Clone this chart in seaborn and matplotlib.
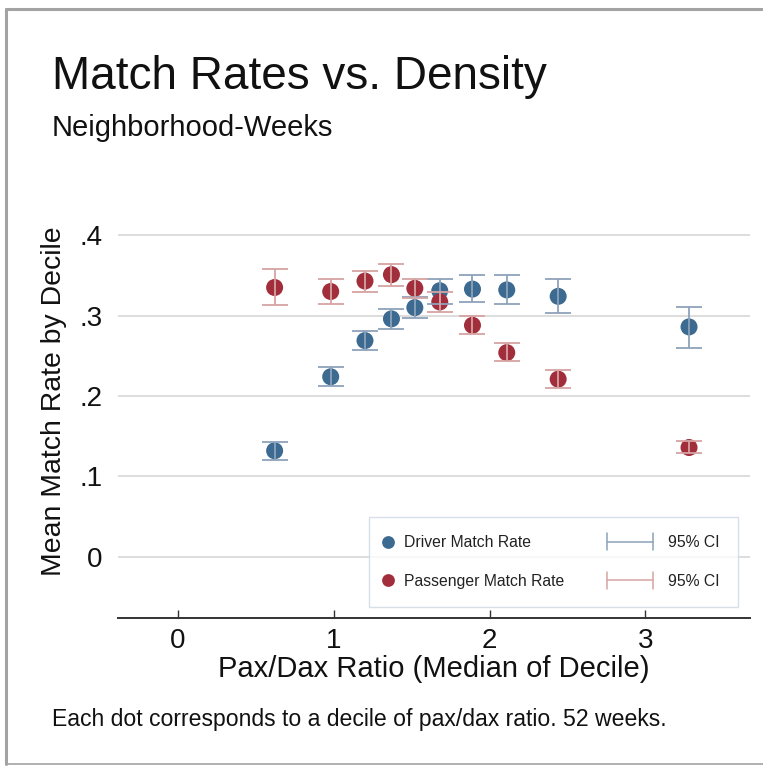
import matplotlib
matplotlib.use("Agg")
import matplotlib.pyplot as plt
from matplotlib.lines import Line2D
from matplotlib.legend_handler import HandlerBase
import seaborn as sns
import pandas as pd

# Median pax/dax ratio of each decile
ratio = [0.62, 0.98, 1.20, 1.37, 1.52, 1.68, 1.89, 2.11, 2.44, 3.28]

# Driver match rate: mean and 95% CI bounds
driver_mean = [0.132, 0.224, 0.269, 0.296, 0.310, 0.331, 0.333, 0.332, 0.324, 0.286]
driver_lo = [0.120, 0.212, 0.257, 0.283, 0.297, 0.315, 0.317, 0.314, 0.303, 0.260]
driver_hi = [0.143, 0.236, 0.281, 0.308, 0.323, 0.346, 0.350, 0.351, 0.345, 0.311]

# Passenger match rate: mean and 95% CI bounds
pass_mean = [0.335, 0.330, 0.343, 0.351, 0.334, 0.317, 0.288, 0.254, 0.221, 0.136]
pass_lo = [0.313, 0.315, 0.330, 0.337, 0.322, 0.304, 0.277, 0.243, 0.210, 0.129]
pass_hi = [0.358, 0.345, 0.356, 0.364, 0.346, 0.329, 0.299, 0.266, 0.233, 0.144]

series_names = ["Driver Match Rate", "Passenger Match Rate"]
ci_label = "95% CI"
ytick_vals = [0.0, 0.1, 0.2, 0.3, 0.4]
ytick_labels = ["0", ".1", ".2", ".3", ".4"]
xtick_vals = [0, 1, 2, 3]

title = "Match Rates vs. Density"
subtitle = "Neighborhood-Weeks"
note = "Each dot corresponds to a decile of pax/dax ratio. 52 weeks."
xlabel = "Pax/Dax Ratio (Median of Decile)"
ylabel = "Mean Match Rate by Decile"

DOT_COLORS = ["#3c6a91", "#a22e3b"]
CI_COLORS = ["#8da2bb", "#d6a3a3"]

sns.set_theme(style="white")
plt.rcParams["font.family"] = ["Liberation Sans", "DejaVu Sans"]

df = pd.DataFrame({
    "ratio": ratio * 2,
    "rate": driver_mean + pass_mean,
    "lo": driver_lo + pass_lo,
    "hi": driver_hi + pass_hi,
    "series": [series_names[0]] * len(ratio) + [series_names[1]] * len(ratio),
})

fig = plt.figure(figsize=(7.63, 7.70), dpi=100)
ax = fig.add_axes([0.1547, 0.1974, 0.828, 0.518])

sns.scatterplot(data=df, x="ratio", y="rate", hue="series",
                palette=DOT_COLORS, s=150, linewidth=0, legend=False,
                ax=ax, zorder=3)

for name, ci_col in zip(series_names, CI_COLORS):
    sub = df[df["series"] == name]
    ax.errorbar(sub["ratio"], sub["rate"],
                yerr=[sub["rate"] - sub["lo"], sub["hi"] - sub["rate"]],
                fmt="none", ecolor=ci_col, elinewidth=1.3, capsize=9.5,
                capthick=1.3, zorder=4)

ax.set_xlim(-0.385, 3.67)
ax.set_ylim(-0.076, 0.42)
ax.set_yticks(ytick_vals)
ax.set_yticklabels(ytick_labels)
ax.set_xticks(xtick_vals)
ax.set_xticklabels([str(v) for v in xtick_vals])
ax.yaxis.grid(True, color="#dddddd", linewidth=1.4)
ax.xaxis.grid(False)
ax.set_axisbelow(True)
for side in ["top", "right", "left"]:
    ax.spines[side].set_visible(False)
ax.spines["bottom"].set_color("#333333")
ax.spines["bottom"].set_linewidth(1.4)
ax.tick_params(axis="x", direction="in", length=6, width=1.0, color="#333333",
               labelsize=20, pad=7, bottom=True)
ax.tick_params(axis="y", length=0, labelsize=20, pad=11)
ax.set_xlabel(xlabel, fontsize=21, labelpad=1, color="#111111")
ax.set_ylabel(ylabel, fontsize=20.4, color="#111111")
ax.yaxis.set_label_coords(-0.081, 0.544)
for lab in ax.get_xticklabels() + ax.get_yticklabels():
    lab.set_color("#111111")


class DotHandler(HandlerBase):
    def create_artists(self, legend, orig_handle, xdescent, ydescent,
                       width, height, fontsize, trans):
        y = height / 2 - ydescent
        dot = Line2D([-xdescent + 0.3], [y], marker="o", linestyle="none",
                     markersize=9.2, markeredgewidth=0,
                     markerfacecolor=orig_handle.get_markerfacecolor())
        dot.set_transform(trans)
        return [dot]


class SpikeHandler(HandlerBase):
    def create_artists(self, legend, orig_handle, xdescent, ydescent,
                       width, height, fontsize, trans):
        y = height / 2 - ydescent
        x1 = width - xdescent - 4.8
        x0 = x1 - 33.5
        h = 6
        col = orig_handle.get_color()
        parts = [Line2D([x0, x1], [y, y]),
                 Line2D([x0, x0], [y - h, y + h]),
                 Line2D([x1, x1], [y - h, y + h])]
        for p in parts:
            p.set_color(col)
            p.set_linewidth(1.1)
            p.set_transform(trans)
        return parts


dot_handles = [Line2D([], [], marker="o", linestyle="none",
                      markerfacecolor=c) for c in DOT_COLORS]
ci_handles = [Line2D([], [], color=c) for c in CI_COLORS]
handler_map = {h: DotHandler() for h in dot_handles}
handler_map.update({h: SpikeHandler() for h in ci_handles})

leg = ax.legend(dot_handles + ci_handles,
                series_names + [ci_label, ci_label],
                handler_map=handler_map, ncol=2, fontsize=11.3,
                handlelength=0.5, handletextpad=0.55, columnspacing=5.6,
                labelspacing=1.52, borderpad=1.15, borderaxespad=0,
                loc="lower right", bbox_to_anchor=(738 / 763, (770 - 607) / 770),
                bbox_transform=fig.transFigure, frameon=True, fancybox=False)
leg.get_frame().set_edgecolor("#cdd8e3")
leg.get_frame().set_linewidth(1.0)
for t in leg.get_texts():
    t.set_color("#222222")

fig.text(52 / 763, 1 - 89 / 770, title, fontsize=33, va="baseline",
         ha="left", color="#111111")
fig.text(52 / 763, 1 - 136 / 770, subtitle, fontsize=21, va="baseline",
         ha="left", color="#111111")
fig.text(52 / 763, 1 - 726 / 770, note, fontsize=16.6, va="baseline",
         ha="left", color="#111111")

# Outer frame of the graph region
border_col = "#a3a3a3"
fig.add_artist(Line2D([6 / 763, 1.0], [1 - 9 / 770, 1 - 9 / 770],
                      transform=fig.transFigure, color=border_col, linewidth=2.2))
fig.add_artist(Line2D([6 / 763, 6 / 763], [1 - 9 / 770, 1 - 764 / 770],
                      transform=fig.transFigure, color=border_col, linewidth=2.2))
fig.add_artist(Line2D([6 / 763, 1.0], [1 - 764 / 770, 1 - 764 / 770],
                      transform=fig.transFigure, color=border_col, linewidth=1.2))

fig.savefig("out.png", dpi=100, facecolor="white")
